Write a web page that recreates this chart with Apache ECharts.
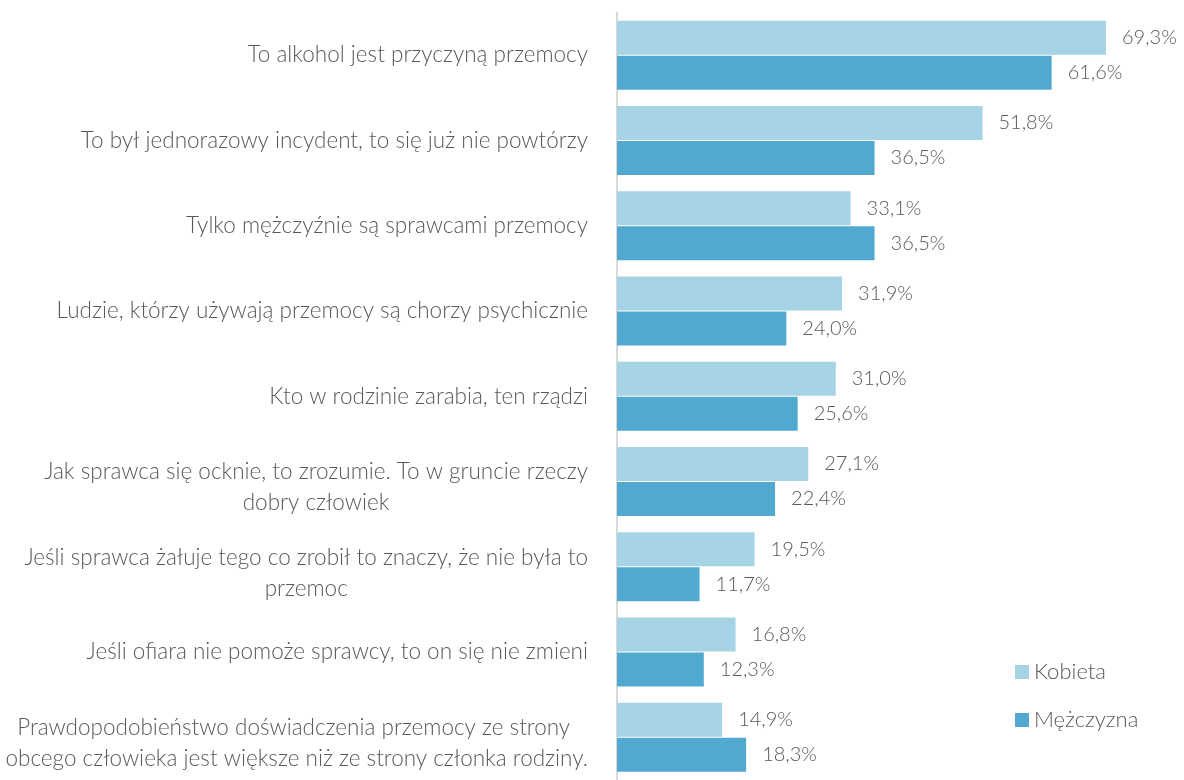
<!DOCTYPE html>
<html>
<head>
<meta charset="utf-8">
<script src="https://cdn.jsdelivr.net/npm/echarts@6/dist/echarts.min.js"></script>
<style>
  html, body { margin: 0; padding: 0; background: #fff; }
  #chart { width: 1184px; height: 780px; }
</style>
</head>
<body>
<div id="chart"></div>
<script>
// categories, top to bottom
const categories = [
  'To alkohol jest przyczyną przemocy',
  'To był jednorazowy incydent, to się już nie powtórzy',
  'Tylko mężczyźnie są sprawcami przemocy',
  'Ludzie, którzy używają przemocy są chorzy psychicznie',
  'Kto w rodzinie zarabia, ten rządzi',
  'Jak sprawca się ocknie, to zrozumie. To w gruncie rzeczy\ndobry człowiek',
  'Jeśli sprawca żałuje tego co zrobił to znaczy, że nie była to\nprzemoc',
  'Jeśli ofiara nie pomoże sprawcy, to on się nie zmieni',
  'Prawdopodobieństwo doświadczenia przemocy ze strony \nobcego człowieka jest większe niż ze strony członka rodziny.'
]
const kobieta = [69.3, 51.8, 33.1, 31.9, 31.0, 27.1, 19.5, 16.8, 14.9]
const mezczyzna = [61.6, 36.5, 36.5, 24.0, 25.6, 22.4, 11.7, 12.3, 18.3]

const textColor = '#595959'
const fontFamily = 'Lato, "Open Sans", sans-serif'

const chart = echarts.init(document.getElementById('chart'))

const valueLabel = {
  show: true,
  position: 'right',
  distance: 16,
  color: textColor,
  fontFamily,
  fontSize: 20,
  fontWeight: 300,
  formatter: p => p.value.toFixed(1).replace('.', ',') + '%'
}

// two-line labels sit a little lower in the original
const yData = categories.map(c =>
  c.includes('\n') ? { value: c, textStyle: { padding: [12, 0, 0, 0] } } : c
)

chart.setOption({
  backgroundColor: '#fff',
  animation: false,
  grid: { left: 617, top: 12.5, width: 564.5, height: 774 },
  legend: {
    orient: 'vertical',
    left: 1010, top: 656,
    itemWidth: 14, itemHeight: 14, itemGap: 26,
    icon: 'rect',
    textStyle: { color: textColor, fontFamily, fontSize: 22, fontWeight: 300 },
    data: ['Kobieta', 'Mężczyzna']
  },
  xAxis: {
    type: 'value', min: 0, max: 80,
    axisLine: { show: false }, axisTick: { show: false },
    axisLabel: { show: false }, splitLine: { show: false }
  },
  yAxis: {
    type: 'category', data: yData, inverse: true,
    axisLine: { lineStyle: { color: '#d9d9d9', width: 2 } },
    axisTick: { show: false },
    axisLabel: {
      margin: 29,
      color: textColor,
      fontFamily, fontSize: 22.5, fontWeight: 300,
      formatter: v => v.split('\n').map(s => '{c|' + s + '}').join('\n'),
      rich: {
        c: { align: 'center', lineHeight: 31, color: textColor, fontFamily, fontSize: 22.5, fontWeight: 300 }
      }
    }
  },
  series: [
    {
      name: 'Kobieta', type: 'bar', data: kobieta,
      barWidth: 34, barGap: '3%',
      itemStyle: { color: '#a6d3e5' },
      label: valueLabel
    },
    {
      name: 'Mężczyzna', type: 'bar', data: mezczyzna,
      barWidth: 34, barGap: '3%',
      itemStyle: { color: '#52a9d0' },
      label: valueLabel
    }
  ]
})
</script>
</body>
</html>
